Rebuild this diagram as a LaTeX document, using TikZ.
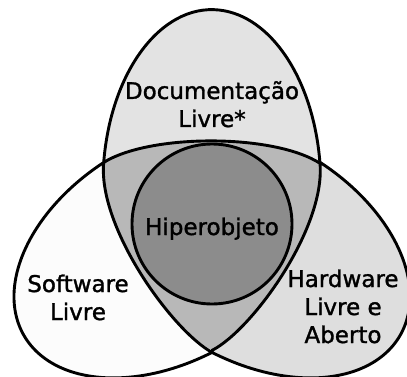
\documentclass[tikz,border=0pt]{standalone}
\usepackage{fontspec}
\setmainfont{DejaVu Sans}[FakeBold=1.4]

\definecolor{docgray}{gray}{0.89}
\definecolor{hardgray}{gray}{0.87}
\definecolor{softgray}{gray}{0.99}
\definecolor{midgray}{gray}{0.72}
\definecolor{hipgray}{gray}{0.55}

\begin{document}
\begin{tikzpicture}[x=1pt,y=-1pt,
  lbl/.style={font=\fontsize{23}{28}\selectfont, align=center, anchor=base, inner sep=0pt},
  rim/.style={line width=2.9pt, line join=round}]

\useasboundingbox (0,0) rectangle (407,377);
\clip (0,0) rectangle (407,377);

% the three crossing points
\coordinate (xl) at (103.6,163.6);
\coordinate (xr) at (320.4,163.6);
\coordinate (xb) at (212,350.4);

% overlap of the three sets
\fill[midgray] (xl) .. controls (149.5,133.5) and (274.5,133.5) .. (xr)
  .. controls (325.4,228.6) and (252,330.1) .. (xb)
  .. controls (172,330.1) and (98.6,228.6) .. (xl) -- cycle;

% documentacao
\fill[docgray] (xl) arc[start angle=186.9, end angle=353.1, x radius=109, y radius=175]
  .. controls (274.5,133.5) and (149.5,133.5) .. (xl) -- cycle;

% hardware
\fill[hardgray] (xr) -- plot[domain=265:94.6, samples=90]
  ({254-146.4*cos(\x)-54*sin(\x)}, {250.4-84.5*cos(\x)+95.5*sin(\x)})
  .. controls (252,330.1) and (325.4,228.6) .. (xr) -- cycle;

% software
\fill[softgray] (xb) -- plot[domain=94.6:265, samples=90]
  ({170+146.4*cos(\x)+54*sin(\x)}, {250.4-84.5*cos(\x)+95.5*sin(\x)})
  .. controls (98.6,228.6) and (172,330.1) .. (xb) -- cycle;

% outlines
\draw[rim] (xl) arc[start angle=186.9, end angle=353.1, x radius=109, y radius=175]
  .. controls (325.4,228.6) and (252,330.1) .. (xb)
  -- plot[domain=94.6:265, samples=90]
  ({170+146.4*cos(\x)+54*sin(\x)}, {250.4-84.5*cos(\x)+95.5*sin(\x)})
  .. controls (149.5,133.5) and (274.5,133.5) .. (xr)
  -- plot[domain=265:94.6, samples=90]
  ({254-146.4*cos(\x)-54*sin(\x)}, {250.4-84.5*cos(\x)+95.5*sin(\x)})
  .. controls (172,330.1) and (98.6,228.6) .. (xl) -- cycle;

% hiperobjeto
\draw[rim, fill=hipgray] (212,224) circle[radius=80];

% labels (base = last line)
\node[lbl] (doc) at (212,127) {Documentação\\Livre*};
\node[lbl] (hiper) at (212,235) {Hiperobjeto};
\node[lbl] (soft) at (78,320) {Software\\Livre};
\node[lbl] (hard) at (343,343) {Hardware\\Livre e\\Aberto};
\end{tikzpicture}
\end{document}
